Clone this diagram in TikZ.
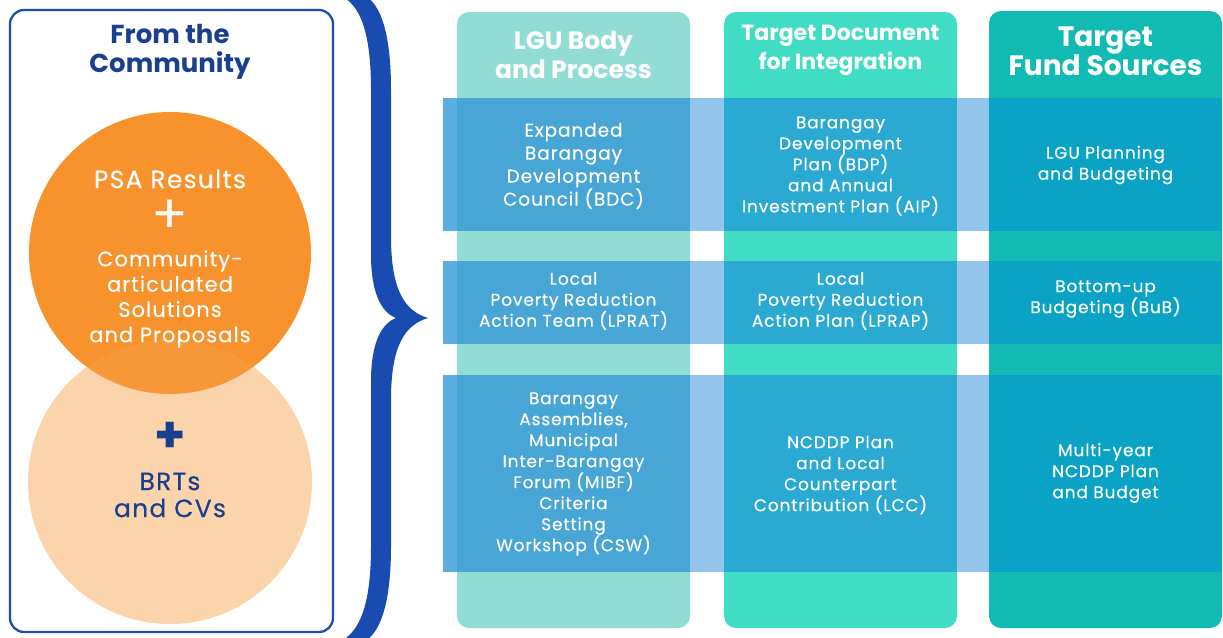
\documentclass[tikz,border=0pt]{standalone}
\usepackage{fontspec}
\setmainfont{Poppins}
\newfontfamily\medfont{Poppins}[LetterSpace=5,FakeBold=0.3]
\definecolor{dblue}{HTML}{1B3F8F}
\definecolor{braceblue}{HTML}{1A4BB0}
\definecolor{boxblue}{HTML}{1D4FA8}
\definecolor{orangeA}{HTML}{F7922D}
\definecolor{orangeB}{HTML}{F8A049}
\definecolor{colA}{HTML}{92DCD6}
\definecolor{colB}{HTML}{40DCC4}
\definecolor{colC}{HTML}{12BAB4}
\definecolor{bandStub}{HTML}{5AAEE0}
\definecolor{bandA}{HTML}{47A6D6}
\definecolor{bandGap}{HTML}{93C4EC}
\definecolor{bandB}{HTML}{2AAAD2}
\definecolor{bandC}{HTML}{0AA3C6}
\tikzset{
  colbox/.style={rounded corners=12pt, draw=none},
  bodytxt/.style={text=white, align=center, inner sep=0pt, font=\medfont\fontsize{17}{21}\selectfont},
  headtxt/.style={text=white, align=center, inner sep=0pt},
  circtxt/.style={align=center, inner sep=0pt},
}
\begin{document}
\begin{tikzpicture}[x=1pt,y=-1pt]
\useasboundingbox (0,0) rectangle (1223,637);
\fill[white] (0,0) rectangle (1223,637);

% left box
\draw[boxblue, line width=2.3pt, rounded corners=14pt] (10,10) rectangle (333,632);
\node[circtxt, text=dblue, font=\bfseries\fontsize{26}{29}\selectfont] (from) at (170,52) {From the\\Community};

% circles
\fill[orangeA] (170,253) circle (141);
\fill[orangeB, fill opacity=0.45] (170,482) circle (142);
\node[circtxt, text=white, font=\medfont\fontsize{25}{25}\selectfont] (psa) at (170,179) {PSA Results};
\node[circtxt, text=white, font=\fontsize{54}{54}\selectfont] (plus1) at (170,217) {+};
\node[circtxt, text=white, font=\medfont\fontsize{21}{25.3}\selectfont] (cas) at (170,299) {Community-\\articulated\\Solutions\\and Proposals};
\node[circtxt, text=dblue, font=\bfseries\fontsize{50}{50}\selectfont] (plus2) at (170,437) {+};
\node[circtxt, text=dblue, font=\medfont\fontsize{25}{27}\selectfont] (brt) at (170,495) {BRTs\\and CVs};

% brace
\fill[braceblue] (343,-3) .. controls (363,8) and (371,40) .. (371,90) -- (371,255)
  .. controls (371,290) and (380,312) .. (396,318)
  .. controls (380,324) and (371,346) .. (371,381) -- (371,546)
  .. controls (371,596) and (363,628) .. (343,640) -- (367,640)
  .. controls (383,628) and (391,596) .. (391,546) -- (391,400)
  .. controls (391,345) and (405,325) .. (428,318)
  .. controls (405,311) and (391,291) .. (391,236) -- (391,90)
  .. controls (391,40) and (383,8) .. (367,-3) -- cycle;

% columns
\fill[colA, colbox] (457,12) rectangle (690,628);
\fill[colB, colbox] (724,12) rectangle (957,628);
\fill[colC, colbox] (989,11) rectangle (1222,628);

% bands
\foreach \ya/\yb in {98/231, 261/344, 375/572}{
  \fill[bandStub] (443,\ya) rectangle (457,\yb);
  \fill[bandA] (457,\ya) rectangle (690,\yb);
  \fill[bandGap] (690,\ya) rectangle (724,\yb);
  \fill[bandB] (724,\ya) rectangle (957,\yb);
  \fill[bandGap] (957,\ya) rectangle (989,\yb);
  \fill[bandC] (989,\ya) rectangle (1222,\yb);
}

% headers
\node[headtxt, font=\bfseries\fontsize{25}{29}\selectfont] (h1) at (573.5,55) {LGU Body\\and Process};
\node[headtxt, font=\bfseries\fontsize{22}{29}\selectfont] (h2) at (840.5,50) {Target Document\\for Integration};
\node[headtxt, font=\bfseries\fontsize{28}{29}\selectfont] (h3) at (1105.5,51) {Target\\Fund Sources};

% row 1
\node[bodytxt, font=\medfont\fontsize{18.5}{23}\selectfont] (r1a) at (573.5,166) {Expanded\\Barangay\\Development\\Council (BDC)};
\node[bodytxt] (r1b) at (840.5,166) {Barangay\\Development\\Plan (BDP)\\and Annual\\Investment Plan (AIP)};
\node[bodytxt] (r1c) at (1105.5,165) {LGU Planning\\and Budgeting};

% row 2
\node[bodytxt] (r2a) at (573.5,301) {Local\\Poverty Reduction\\Action Team (LPRAT)};
\node[bodytxt] (r2b) at (840.5,301) {Local\\Poverty Reduction\\Action Plan (LPRAP)};
\node[bodytxt] (r2c) at (1105.5,299) {Bottom-up\\Budgeting (BuB)};

% row 3
\node[bodytxt] (r3a) at (573.5,474) {Barangay\\Assemblies,\\Municipal\\Inter-Barangay\\Forum (MIBF)\\Criteria\\Setting\\Workshop (CSW)};
\node[bodytxt] (r3b) at (840.5,475) {NCDDP Plan\\and Local\\Counterpart\\Contribution (LCC)};
\node[bodytxt] (r3c) at (1105.5,473) {Multi-year\\NCDDP Plan\\and Budget};
\end{tikzpicture}
\end{document}
